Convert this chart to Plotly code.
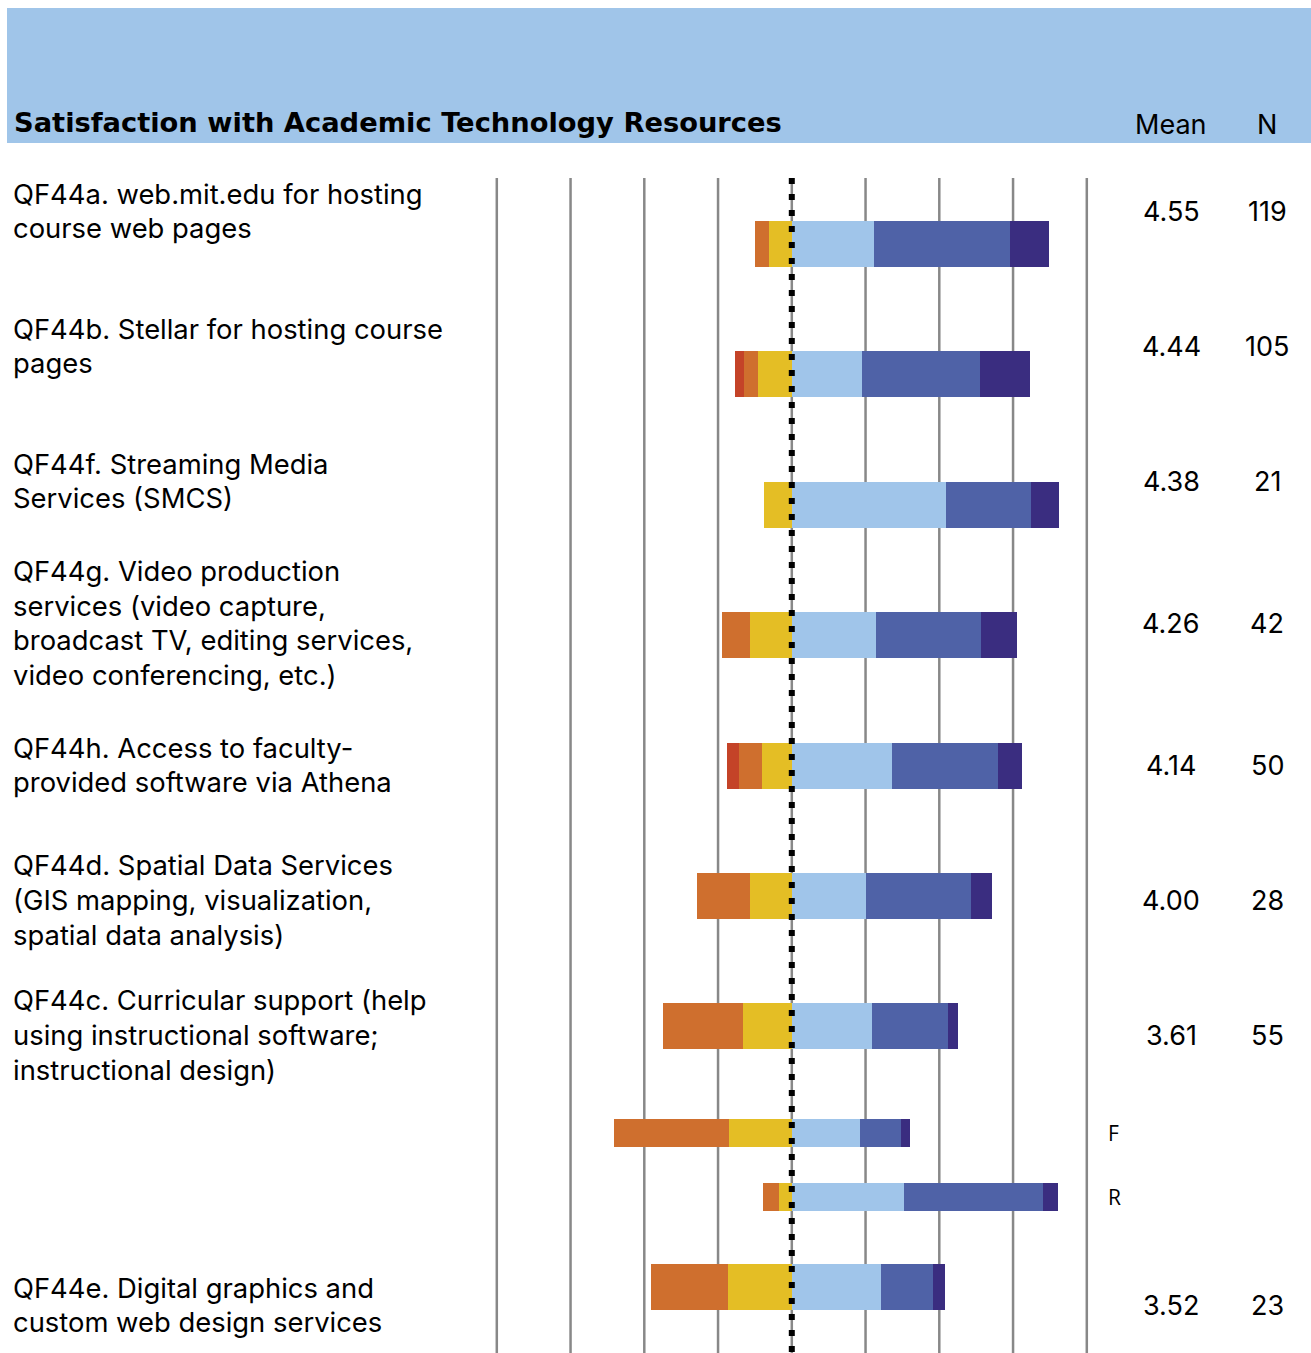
import plotly.graph_objects as go

# rows of the chart, top to bottom (F and R are unlabeled sub-rows)
row_labels = [
    ["QF44a. web.mit.edu for hosting", "course web pages"],
    ["QF44b. Stellar for hosting course", "pages"],
    ["QF44f. Streaming Media", "Services (SMCS)"],
    ["QF44g. Video production", "services (video capture,", "broadcast TV, editing services,",
     "video conferencing, etc.)"],
    ["QF44h. Access to faculty-", "provided software via Athena"],
    ["QF44d. Spatial Data Services", "(GIS mapping, visualization,", "spatial data analysis)"],
    ["QF44c. Curricular support (help", "using instructional software;", "instructional design)"],
    ["QF44e. Digital graphics and", "custom web design services"],
]
means = ["4.55", "4.44", "4.38", "4.26", "4.14", "4.00", "3.61", "3.52"]
ns = ["119", "105", "21", "42", "50", "28", "55", "23"]

bar_ids = ["a", "b", "f", "g", "h", "d", "c", "F", "R", "e"]

# percentages per response level
very_dissatisfied = [0, 2.9, 0, 0, 4.0, 0, 0, 0, 0, 0]
dissatisfied = [5.0, 4.8, 0, 9.5, 8.0, 17.9, 27.3, 39.0, 5.4, 26.1]
somewhat_dissatisfied = [7.6, 11.4, 9.5, 14.3, 10.0, 14.3, 16.4, 21.3, 4.4, 21.7]
somewhat_satisfied = [27.7, 23.8, 52.4, 28.6, 34.0, 25.0, 27.3, 23.1, 38.0, 30.4]
satisfied = [46.2, 40.0, 28.6, 35.7, 36.0, 35.7, 25.5, 13.9, 47.1, 17.4]
very_satisfied = [13.4, 17.1, 9.5, 11.9, 8.0, 7.1, 3.6, 2.9, 5.3, 4.3]

grid_ticks = [-100, -75, -50, -25, 25, 50, 75, 100]

# layout (pixel units on the y axis)
W, H = 1311, 1353
bar_y = [244, 374, 505, 635, 766, 896, 1026, 1133, 1197, 1287]
bar_h = [46, 46, 46, 46, 46, 46, 46, 28, 28, 46]
label_y = [211, 346, 481, 623, 765, 900, 1035, 1305]
line_gap = 34.6
sub_labels = {"F": "F", "R": "R"}

center_px = 791.8
px_per_pct = 2.95
x_min = -center_px / px_per_pct
x_max = (W - center_px) / px_per_pct


def px(x_pixel):
    return x_pixel / W


fig = go.Figure()

neg_levels = [
    (somewhat_dissatisfied, "#E4BE25"),
    (dissatisfied, "#CF6F2E"),
    (very_dissatisfied, "#C44328"),
]
pos_levels = [
    (somewhat_satisfied, "#A0C5EA"),
    (satisfied, "#4F62A7"),
    (very_satisfied, "#3A2D80"),
]

for vals, col in neg_levels:
    fig.add_trace(go.Bar(y=bar_y, x=[-v for v in vals], width=bar_h, orientation="h",
                         marker=dict(color=col, line=dict(width=0)), showlegend=False))
for vals, col in pos_levels:
    fig.add_trace(go.Bar(y=bar_y, x=vals, width=bar_h, orientation="h",
                         marker=dict(color=col, line=dict(width=0)), showlegend=False))

# header band
fig.add_shape(type="rect", xref="paper", yref="y", x0=px(7), x1=1, y0=8, y1=143,
              fillcolor="#A0C5E9", line=dict(width=0), layer="below")

# grid lines
for t in grid_ticks + [0]:
    fig.add_shape(type="line", xref="x", yref="y", x0=t, x1=t, y0=178, y1=H,
                  line=dict(color="#888888", width=2.5), layer="below")
# dotted centre line
fig.add_shape(type="line", xref="x", yref="y", x0=0, x1=0, y0=178, y1=H,
              line=dict(color="black", width=6, dash="6px,10px"), layer="above")

font = "Inter, Liberation Sans, Arial, sans-serif"
fig.add_annotation(text="<b>Satisfaction with Academic Technology Resources</b>",
                   xref="paper", yref="y", x=px(12), y=122, xanchor="left", yanchor="middle",
                   showarrow=False, font=dict(family="DejaVu Sans, sans-serif", size=27.3, color="black"))
fig.add_annotation(text="Mean", xref="paper", yref="y", x=px(1171), y=124,
                   xanchor="center", yanchor="middle", showarrow=False,
                   font=dict(family=font, size=27, color="black"))
fig.add_annotation(text="N", xref="paper", yref="y", x=px(1267), y=124,
                   xanchor="center", yanchor="middle", showarrow=False,
                   font=dict(family=font, size=27, color="black"))

for lines, m, n, yy in zip(row_labels, means, ns, label_y):
    k = len(lines)
    for i, line in enumerate(lines):
        fig.add_annotation(text=line, xref="paper", yref="y", x=px(11),
                           y=yy + (i - (k - 1) / 2) * line_gap,
                           xanchor="left", yanchor="middle", align="left", showarrow=False,
                           font=dict(family=font, size=27.4, color="black"))
    fig.add_annotation(text=m, xref="paper", yref="y", x=px(1171), y=yy,
                       xanchor="center", yanchor="middle", showarrow=False,
                       font=dict(family=font, size=27, color="black"))
    fig.add_annotation(text=n, xref="paper", yref="y", x=px(1267), y=yy,
                       xanchor="center", yanchor="middle", showarrow=False,
                       font=dict(family=font, size=27, color="black"))

for bid, yy in zip(bar_ids, bar_y):
    if bid in sub_labels:
        fig.add_annotation(text=sub_labels[bid], xref="paper", yref="y", x=px(1106), y=yy,
                           xanchor="left", yanchor="middle", showarrow=False,
                           font=dict(family="Open Sans, sans-serif", size=21, color="black"))

fig.update_layout(
    width=W, height=H,
    margin=dict(l=0, r=0, t=0, b=0),
    barmode="relative",
    bargap=0,
    plot_bgcolor="white",
    paper_bgcolor="white",
    xaxis=dict(range=[x_min, x_max], visible=False, fixedrange=True),
    yaxis=dict(range=[H, 0], visible=False, fixedrange=True),
)

fig.write_html("out.html", config={"displayModeBar": False},
               post_script="document.body.style.margin='0';document.body.style.overflow='hidden';")
